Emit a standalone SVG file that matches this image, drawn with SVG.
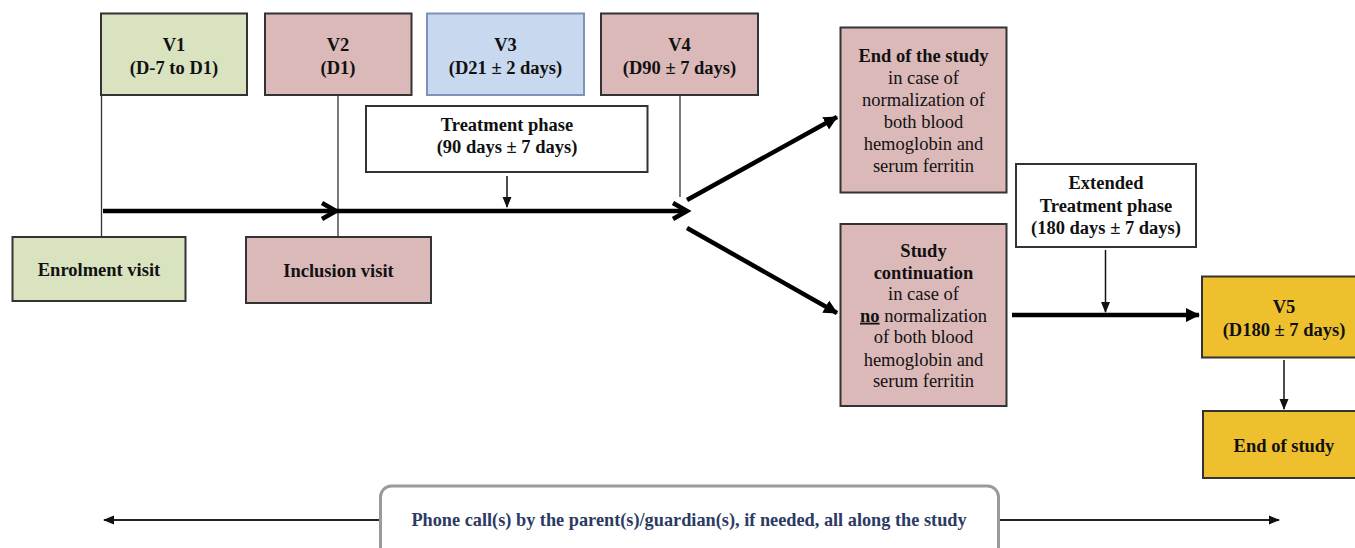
<svg xmlns="http://www.w3.org/2000/svg" width="1355" height="548" viewBox="0 0 1355 548" font-family="Liberation Serif, Times New Roman, serif">
<style>
  .box { stroke: #333; stroke-width: 2; }
  .green { fill: #dae3c0; }
  .pink { fill: #dcb9b9; }
  .blue { fill: #c8d8ef; stroke: #7d92bb; }
  .gold { fill: #eec02e; }
  .white { fill: #ffffff; }
  text { font-size: 18.5px; fill: #111; text-anchor: middle; }
  .b { font-weight: bold; }
  .tick { stroke: #333; stroke-width: 1.3; fill: none; }
  .thick { stroke: #000; stroke-width: 4.5; fill: none; }
  .thin { stroke: #111; stroke-width: 1.5; fill: none; }
  .phone { fill: #2c3b63; font-weight: bold; font-size: 18.3px; }
</style>
<defs>
  <marker id="chev" markerUnits="userSpaceOnUse" markerWidth="24" markerHeight="24" refX="18" refY="12" orient="auto">
    <path d="M4,4 L18,12 L4,20" fill="none" stroke="#000" stroke-width="4.5" stroke-linejoin="miter"/>
  </marker>
  <marker id="triT" markerUnits="userSpaceOnUse" markerWidth="16" markerHeight="16" refX="13" refY="8" orient="auto">
    <path d="M0,1 L14,8 L0,15 Z" fill="#000"/>
  </marker>
  <marker id="tri" markerUnits="userSpaceOnUse" markerWidth="12" markerHeight="12" refX="10" refY="6" orient="auto-start-reverse">
    <path d="M0,1.5 L11,6 L0,10.5 Z" fill="#111"/>
  </marker>
</defs>

<g id="connectors">
  <line class="tick" x1="101.5" y1="95" x2="101.5" y2="237"/>
  <line class="tick" x1="338" y1="95" x2="338" y2="237"/>
  <line class="tick" x1="680" y1="96" x2="680" y2="197"/>
  <line class="thick" x1="103" y1="211" x2="336" y2="211" marker-end="url(#chev)"/>
  <line class="thick" x1="336" y1="211" x2="687" y2="211" marker-end="url(#chev)"/>
  <line class="thin" x1="507" y1="176" x2="507" y2="207" marker-end="url(#tri)"/>
  <line class="thick" x1="687" y1="200" x2="837" y2="117" marker-end="url(#triT)"/>
  <line class="thick" x1="687" y1="228" x2="837" y2="313" marker-end="url(#triT)"/>
  <line class="thick" x1="1012" y1="315" x2="1199" y2="315" marker-end="url(#triT)"/>
  <line class="thin" x1="1105.5" y1="250" x2="1105.5" y2="312" marker-end="url(#tri)"/>
  <line class="thin" x1="1284" y1="360" x2="1284" y2="409" marker-end="url(#tri)"/>
  <line x1="104" y1="520" x2="1279" y2="520" stroke="#222" stroke-width="2.2" marker-start="url(#tri)" marker-end="url(#tri)"/>
</g>

<g id="v1">
  <rect class="box green" x="101" y="13.5" width="146" height="81.5"/>
  <text class="b" x="174" y="50.5">V1</text>
  <text class="b" x="174" y="73.5">(D-7 to D1)</text>
</g>
<g id="v2">
  <rect class="box pink" x="265" y="13.5" width="146.5" height="81.5"/>
  <text class="b" x="338" y="50.5">V2</text>
  <text class="b" x="338" y="73.5">(D1)</text>
</g>
<g id="v3">
  <rect class="box blue" x="427" y="13.5" width="157" height="81.5"/>
  <text class="b" x="505.5" y="50.5">V3</text>
  <text class="b" x="505.5" y="73.5">(D21 ± 2 days)</text>
</g>
<g id="v4">
  <rect class="box pink" x="601" y="13.5" width="157" height="81.5"/>
  <text class="b" x="679.5" y="50.5">V4</text>
  <text class="b" x="679.5" y="73.5">(D90 ± 7 days)</text>
</g>
<g id="treatment-phase">
  <rect class="box white" x="366" y="106" width="281.5" height="66"/>
  <text class="b" x="507" y="130.5">Treatment phase</text>
  <text class="b" x="507" y="153">(90 days ± 7 days)</text>
</g>
<g id="enrolment">
  <rect class="box green" x="12.5" y="237" width="173" height="64"/>
  <text class="b" x="99" y="275.5">Enrolment visit</text>
</g>
<g id="inclusion">
  <rect class="box pink" x="246" y="237" width="185" height="66"/>
  <text class="b" x="338.5" y="277">Inclusion visit</text>
</g>
<g id="end-normalization">
  <rect class="box pink" x="840.5" y="27.5" width="166" height="165"/>
  <text class="b" x="923.5" y="62">End of the study</text>
  <text x="923.5" y="84">in case of</text>
  <text x="923.5" y="106">normalization of</text>
  <text x="923.5" y="128">both blood</text>
  <text x="923.5" y="150">hemoglobin and</text>
  <text x="923.5" y="172">serum ferritin</text>
</g>
<g id="continuation">
  <rect class="box pink" x="840.5" y="224" width="166" height="182"/>
  <text class="b" x="923.5" y="257">Study</text>
  <text class="b" x="923.5" y="278.5">continuation</text>
  <text x="923.5" y="300">in case of</text>
  <text x="923.5" y="321.7"><tspan class="b" text-decoration="underline">no</tspan> normalization</text>
  <text x="923.5" y="343.3">of both blood</text>
  <text x="923.5" y="365.5">hemoglobin and</text>
  <text x="923.5" y="387">serum ferritin</text>
</g>
<g id="extended-phase">
  <rect class="box white" x="1016" y="164" width="180" height="83"/>
  <text class="b" x="1106" y="189">Extended</text>
  <text class="b" x="1106" y="211.5">Treatment phase</text>
  <text class="b" x="1106" y="234">(180 days ± 7 days)</text>
</g>
<g id="v5">
  <rect class="box gold" x="1202" y="276.5" width="160" height="81"/>
  <text class="b" x="1284" y="312.5">V5</text>
  <text class="b" x="1284" y="335.5">(D180 ± 7 days)</text>
</g>
<g id="end-of-study">
  <rect class="box gold" x="1203" y="411" width="160" height="67"/>
  <text class="b" x="1284" y="452">End of study</text>
</g>
<g id="phone-calls">
  <rect x="380.5" y="486" width="618" height="90" rx="11" fill="#fff" stroke="#9a9a9a" stroke-width="3"/>
  <text class="phone" x="689" y="526">Phone call(s) by the parent(s)/guardian(s), if needed, all along the study</text>
</g>
</svg>
